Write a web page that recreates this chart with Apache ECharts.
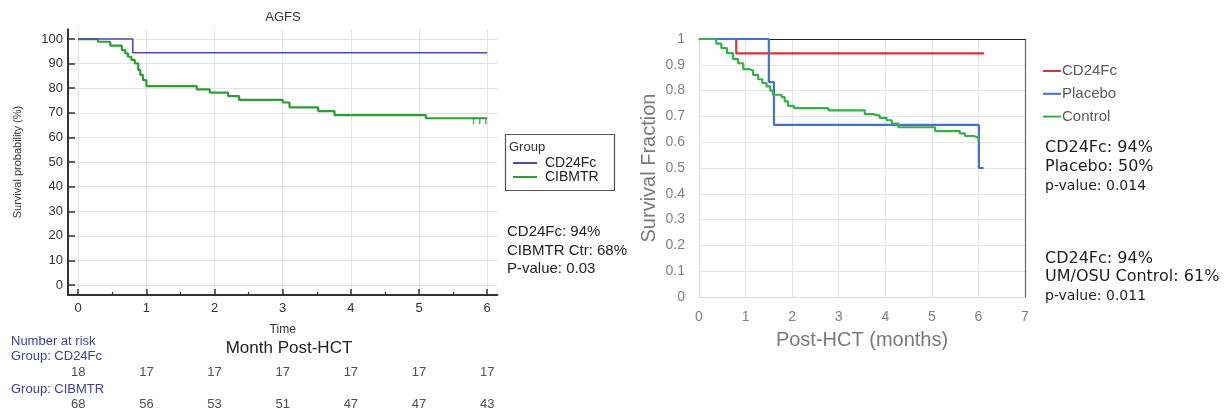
<!DOCTYPE html>
<html>
<head>
<meta charset="utf-8">
<script src="https://cdn.jsdelivr.net/npm/echarts@6/dist/echarts.min.js"></script>
<style>html,body{margin:0;padding:0;background:#fff;}#c{width:1232px;height:413px;}</style>
</head>
<body>
<div id="c"></div>
<script>
// ---------- Left panel (AGFS) ----------
const leftXTicks = [0, 1, 2, 3, 4, 5, 6];
const leftXMinorTicks = [0.5, 1.5, 2.5, 3.5, 4.5, 5.5];
const leftYTicks = [0, 10, 20, 30, 40, 50, 60, 70, 80, 90, 100];
// Kaplan-Meier steps: [month, survival %]
const agfsCD24Fc = [[0, 100], [0.8, 94.4], [6.0, 94.4]];
const agfsCIBMTR = [
  [0, 100], [0.29, 98.9], [0.47, 97.3], [0.64, 95.5], [0.69, 94.2], [0.73, 92.8],
  [0.78, 91.5], [0.83, 90.1], [0.88, 87.5], [0.91, 85.4], [0.95, 83.3], [1.0, 80.9],
  [1.74, 79.5], [1.93, 78.2], [2.2, 76.8], [2.36, 75.3], [3.0, 74.2], [3.1, 72.2],
  [3.52, 70.7], [3.76, 69.1], [5.1, 67.8], [6.0, 67.8]
];
const cibmtrCensored = [[5.8, 67.8], [5.89, 67.8], [5.98, 67.8]];
// Number at risk
const riskTimes = [0, 1, 2, 3, 4, 5, 6];
const riskCD24Fc = [18, 17, 17, 17, 17, 17, 17];
const riskCIBMTR = [68, 56, 53, 51, 47, 47, 43];

// ---------- Right panel ----------
const trialCD24Fc = [[0, 1], [0.8, 0.944], [6.12, 0.944]];
const trialPlacebo = [[0, 1], [1.5, 0.833], [1.61, 0.667], [6.01, 0.5], [6.11, 0.5]];
const trialControl = [
  [0, 1], [0.27, 1], [0.37, 0.982], [0.48, 0.965], [0.6, 0.945], [0.73, 0.922],
  [0.84, 0.906], [0.95, 0.883], [1.08, 0.878], [1.16, 0.861], [1.27, 0.844],
  [1.36, 0.829], [1.45, 0.816], [1.53, 0.8], [1.59, 0.784], [1.77, 0.775],
  [1.84, 0.758], [1.91, 0.741], [2.04, 0.732], [2.78, 0.723], [3.56, 0.709],
  [3.74, 0.703], [3.88, 0.694], [4.03, 0.685], [4.14, 0.672], [4.28, 0.658],
  [5.07, 0.643], [5.6, 0.634], [5.71, 0.624], [5.89, 0.618], [6.0, 0.605], [6.02, 0.605]
];

const ARIAL = '"Liberation Sans", Arial, sans-serif';
const DEJAVU = '"DejaVu Sans", sans-serif';

const chart = echarts.init(document.getElementById('c'), null, {renderer: 'canvas'});

const option = {
  backgroundColor: '#ffffff',
  animation: false,
  grid: [
    {left: 68, top: 29.2, width: 429.4, height: 265.7},
    {left: 699, top: 39, width: 326, height: 258},
    {left: 68, top: 372, width: 429.4, height: 32}
  ],
  xAxis: [
    { // 0 left main
      gridIndex: 0, type: 'value', min: -0.15, max: 6.15,
      name: 'Time', nameLocation: 'middle', nameGap: 29,
      nameTextStyle: {fontFamily: ARIAL, fontSize: 12, color: '#333'},
      axisLine: {show: true, onZero: false, lineStyle: {color: '#333', width: 2}},
      axisTick: {show: true, inside: true, length: 6, customValues: leftXTicks, lineStyle: {color: '#333', width: 1.5}},
      axisLabel: {customValues: leftXTicks, margin: 7, fontFamily: ARIAL, fontSize: 13, color: '#333'},
      splitLine: {show: true, lineStyle: {color: '#e4e4e4', width: 1}}
    },
    { // 1 left minor ticks
      gridIndex: 0, type: 'value', min: -0.15, max: 6.15, position: 'bottom',
      axisLine: {show: false, onZero: false},
      axisTick: {show: true, inside: true, length: 3, customValues: leftXMinorTicks, lineStyle: {color: '#333', width: 1.2}},
      axisLabel: {show: false}, splitLine: {show: false}
    },
    { // 2 right bottom
      gridIndex: 1, type: 'value', min: 0, max: 7, interval: 1,
      name: 'Post-HCT (months)', nameLocation: 'middle', nameGap: 33,
      nameTextStyle: {fontFamily: ARIAL, fontSize: 20, color: '#7a7a7a'},
      axisLine: {show: true, onZero: false, lineStyle: {color: '#d9d9d9', width: 1}},
      axisTick: {show: false},
      axisLabel: {margin: 13, fontFamily: ARIAL, fontSize: 14, color: '#808080'},
      splitLine: {show: true, lineStyle: {color: '#e6e6e6', width: 1}}
    },
    { // 3 right top border
      gridIndex: 1, type: 'value', min: 0, max: 7, position: 'top',
      axisLine: {show: true, onZero: false, lineStyle: {color: '#222', width: 1}},
      axisTick: {show: false}, axisLabel: {show: false}, splitLine: {show: false}
    },
    { // 4 at-risk table
      gridIndex: 2, type: 'value', min: -0.15, max: 6.15, show: false
    }
  ],
  yAxis: [
    { // 0 left
      gridIndex: 0, type: 'value', min: -4, max: 104,
      name: 'Survival probability (%)', nameLocation: 'middle', nameGap: 45,
      nameTextStyle: {fontFamily: ARIAL, fontSize: 11, color: '#333'},
      axisLine: {show: true, onZero: false, lineStyle: {color: '#333', width: 2}},
      axisTick: {show: true, inside: true, length: 7, customValues: leftYTicks, lineStyle: {color: '#333', width: 1.5}},
      axisLabel: {customValues: leftYTicks, margin: 5, fontFamily: ARIAL, fontSize: 13, color: '#333'},
      splitLine: {show: true, lineStyle: {color: '#e4e4e4', width: 1}}
    },
    { // 1 right left
      gridIndex: 1, type: 'value', min: 0, max: 1, interval: 0.1,
      name: 'Survival Fraction', nameLocation: 'middle', nameGap: 40,
      nameTextStyle: {fontFamily: ARIAL, fontSize: 20, color: '#7a7a7a'},
      axisLine: {show: true, onZero: false, lineStyle: {color: '#d9d9d9', width: 1}},
      axisTick: {show: false},
      axisLabel: {margin: 14, fontFamily: ARIAL, fontSize: 14, color: '#808080'},
      splitLine: {show: true, lineStyle: {color: '#e6e6e6', width: 1}}
    },
    { // 2 right border
      gridIndex: 1, type: 'value', min: 0, max: 1, position: 'right',
      axisLine: {show: true, onZero: false, lineStyle: {color: '#666', width: 1.2}},
      axisTick: {show: false}, axisLabel: {show: false}, splitLine: {show: false}
    },
    { // 3 at-risk
      gridIndex: 2, type: 'value', min: 0, max: 1, show: false
    }
  ],
  legend: [
    {
      data: ['CD24Fc', 'CIBMTR'], orient: 'vertical', left: 513, top: 156,
      icon: 'rect', itemWidth: 24, itemHeight: 2, itemGap: 0, padding: 0,
      textStyle: {fontFamily: ARIAL, fontSize: 14, lineHeight: 14, color: '#222', padding: [0, 0, 0, 3]},
      selectedMode: false
    },
    {
      data: ['CD24Fc|R', 'Placebo', 'Control'], orient: 'vertical', left: 1043, top: 63,
      icon: 'rect', itemWidth: 18, itemHeight: 2, itemGap: 6.8, padding: 0,
      formatter: function (n) { return n.split('|')[0]; },
      textStyle: {fontFamily: ARIAL, fontSize: 15, lineHeight: 16, color: '#5a5a5a', padding: [0, 0, 0, -4]},
      selectedMode: false
    }
  ],
  graphic: [
    {type: 'text', style: {x: 283, y: 17, text: 'AGFS', font: '13px ' + ARIAL, fill: '#333', align: 'center', verticalAlign: 'middle'}},
    {type: 'rect', shape: {x: 505.5, y: 134.5, width: 109, height: 56}, style: {fill: 'none', stroke: '#555', lineWidth: 1.2}},
    {type: 'text', style: {x: 509, y: 147, text: 'Group', font: '13px ' + ARIAL, fill: '#333', verticalAlign: 'middle'}},
    {type: 'text', style: {x: 507, y: 232, text: 'CD24Fc: 94%', font: '15px ' + ARIAL, fill: '#222', verticalAlign: 'middle'}},
    {type: 'text', style: {x: 507, y: 251, text: 'CIBMTR Ctr: 68%', font: '15px ' + ARIAL, fill: '#222', verticalAlign: 'middle'}},
    {type: 'text', style: {x: 507, y: 269, text: 'P-value: 0.03', font: '15px ' + ARIAL, fill: '#222', verticalAlign: 'middle'}},
    {type: 'text', style: {x: 289, y: 348, text: 'Month Post-HCT', font: '17px ' + ARIAL, fill: '#222', align: 'center', verticalAlign: 'middle'}},
    {type: 'text', style: {x: 11, y: 341, text: 'Number at risk', font: '13px ' + ARIAL, fill: '#3e3e9c', verticalAlign: 'middle'}},
    {type: 'text', style: {x: 11, y: 356, text: 'Group: CD24Fc', font: '13px ' + ARIAL, fill: '#3e3e9c', verticalAlign: 'middle'}},
    {type: 'text', style: {x: 11, y: 389, text: 'Group: CIBMTR', font: '13px ' + ARIAL, fill: '#3e3e9c', verticalAlign: 'middle'}},
    {type: 'text', style: {x: 1045, y: 148, text: 'CD24Fc: 94%', font: '16px ' + DEJAVU, fill: '#1e1e1e', verticalAlign: 'middle'}},
    {type: 'text', style: {x: 1045, y: 167, text: 'Placebo: 50%', font: '16px ' + DEJAVU, fill: '#1e1e1e', verticalAlign: 'middle'}},
    {type: 'text', style: {x: 1045, y: 186, text: 'p-value: 0.014', font: '14px ' + DEJAVU, fill: '#1e1e1e', verticalAlign: 'middle'}},
    {type: 'text', style: {x: 1045, y: 259, text: 'CD24Fc: 94%', font: '16px ' + DEJAVU, fill: '#1e1e1e', verticalAlign: 'middle'}},
    {type: 'text', style: {x: 1045, y: 277, text: 'UM/OSU Control: 61%', font: '16px ' + DEJAVU, fill: '#1e1e1e', verticalAlign: 'middle'}},
    {type: 'text', style: {x: 1045, y: 296, text: 'p-value: 0.011', font: '14px ' + DEJAVU, fill: '#1e1e1e', verticalAlign: 'middle'}}
  ],
  series: [
    {
      name: 'CD24Fc', type: 'line', xAxisIndex: 0, yAxisIndex: 0, step: 'end',
      data: agfsCD24Fc, showSymbol: false, symbol: 'none', z: 4,
      lineStyle: {color: '#4b4ba8', width: 1.6}, itemStyle: {color: '#4b4ba8'}
    },
    {
      name: 'CIBMTR', type: 'line', xAxisIndex: 0, yAxisIndex: 0, step: 'end',
      data: agfsCIBMTR, showSymbol: false, symbol: 'none', z: 3,
      lineStyle: {color: '#2f9c38', width: 2.2}, itemStyle: {color: '#2f9c38'}
    },
    {
      name: 'CIBMTR censored', type: 'scatter', xAxisIndex: 0, yAxisIndex: 0,
      data: cibmtrCensored, symbol: 'rect', symbolSize: [1.5, 6], symbolOffset: [0, 3],
      itemStyle: {color: '#2f9c38'}, silent: true, z: 3
    },
    {
      name: 'riskCD24Fc', type: 'scatter', xAxisIndex: 4, yAxisIndex: 3, clip: false,
      data: riskTimes.map((t, i) => [t, 1, riskCD24Fc[i]]),
      symbolSize: 1, itemStyle: {color: 'rgba(0,0,0,0)'}, silent: true,
      label: {show: true, position: 'inside', formatter: p => String(p.value[2]), fontFamily: ARIAL, fontSize: 13, color: '#222'}
    },
    {
      name: 'riskCIBMTR', type: 'scatter', xAxisIndex: 4, yAxisIndex: 3, clip: false,
      data: riskTimes.map((t, i) => [t, 0, riskCIBMTR[i]]),
      symbolSize: 1, itemStyle: {color: 'rgba(0,0,0,0)'}, silent: true,
      label: {show: true, position: 'inside', formatter: p => String(p.value[2]), fontFamily: ARIAL, fontSize: 13, color: '#222'}
    },
    {
      name: 'CD24Fc|R', type: 'line', xAxisIndex: 2, yAxisIndex: 1, step: 'end',
      data: trialCD24Fc, showSymbol: false, symbol: 'none', z: 3,
      lineStyle: {color: '#d8333b', width: 2.2}, itemStyle: {color: '#d8333b'}
    },
    {
      name: 'Placebo', type: 'line', xAxisIndex: 2, yAxisIndex: 1, step: 'end',
      data: trialPlacebo, showSymbol: false, symbol: 'none', z: 4,
      lineStyle: {color: '#4472c9', width: 2.2}, itemStyle: {color: '#4472c9'}
    },
    {
      name: 'Control', type: 'line', xAxisIndex: 2, yAxisIndex: 1, step: 'end',
      data: trialControl, showSymbol: false, symbol: 'none', z: 5,
      lineStyle: {color: '#35b04a', width: 2.2}, itemStyle: {color: '#35b04a'}
    }
  ]
};
chart.setOption(option);
</script>
</body>
</html>
